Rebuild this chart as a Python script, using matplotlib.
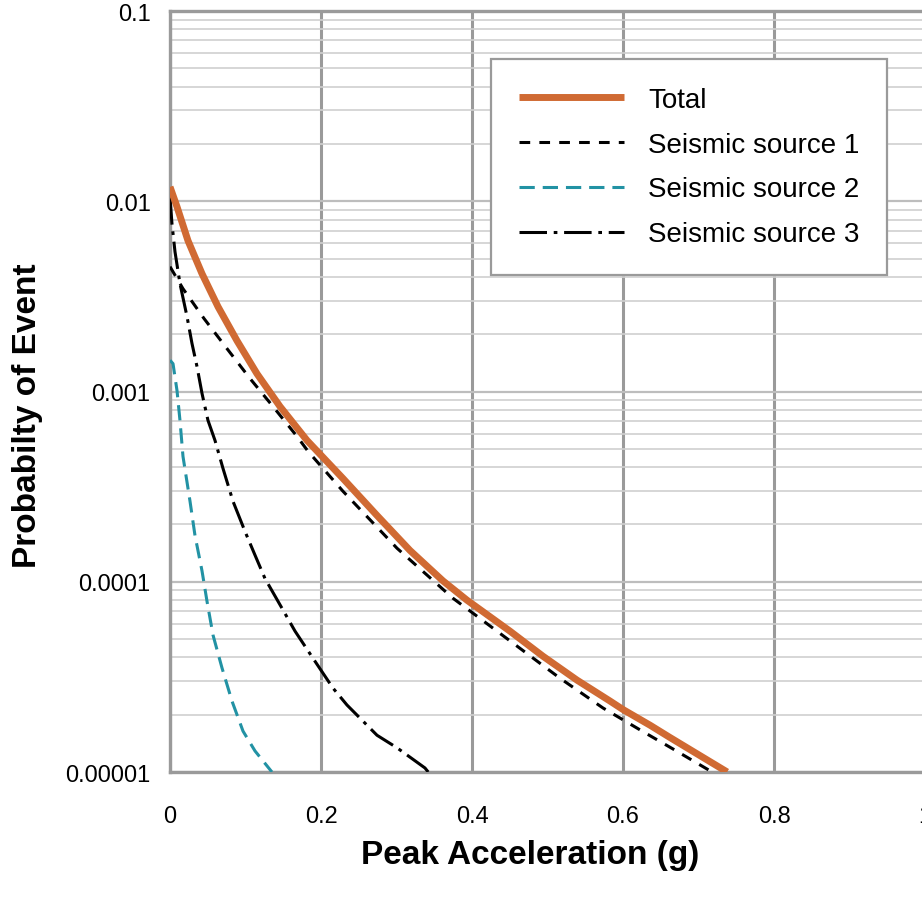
import numpy as np
import matplotlib
matplotlib.use("Agg")
import matplotlib.pyplot as plt
from matplotlib.ticker import LogLocator, NullFormatter

plt.rcParams['font.family'] = ['Liberation Sans', 'DejaVu Sans']

# values (x = peak acceleration in g, y = probability)
total_x = [0.0, 0.0093, 0.0238, 0.0424, 0.0636, 0.0887, 0.1152, 0.1457, 0.1815,
           0.2291, 0.2742, 0.3179, 0.3616, 0.3934, 0.4503, 0.4940, 0.5391, 0.5828,
           0.600, 0.636, 0.662, 0.738]
total_y = [0.0119, 0.00935, 0.00621, 0.00416, 0.00279, 0.00185, 0.00124, 0.000834,
           0.000553, 0.000349, 0.000223, 0.000146, 0.000101, 8.0e-5, 5.5e-5,
           4.06e-5, 3.04e-5, 2.36e-5, 2.13e-5, 1.76e-5, 1.52e-5, 1.0e-5]

src1_x = [0.0, 0.0172, 0.045, 0.0755, 0.106, 0.1364, 0.1682, 0.183, 0.2291, 0.3007,
          0.3748, 0.4331, 0.5166, 0.5735, 0.6265, 0.665, 0.718]
src1_y = [0.00453, 0.00347, 0.00242, 0.00168, 0.00117, 0.000834, 0.000581, 0.000484,
          0.000299, 0.000150, 8.19e-5, 5.5e-5, 3.11e-5, 2.17e-5, 1.63e-5, 1.33e-5, 1.0e-5]

src2_x = [0.0, 0.004, 0.0093, 0.0132, 0.0172, 0.0265, 0.0331, 0.0424, 0.049, 0.057,
          0.0689, 0.0821, 0.0967, 0.1126, 0.135]
src2_y = [0.00146, 0.0014, 0.00101, 0.000705, 0.000456, 0.000265, 0.000175, 0.000114,
          7.9e-5, 5.24e-5, 3.52e-5, 2.36e-5, 1.64e-5, 1.29e-5, 1.0e-5]

src3_x = [0.0, 0.0026, 0.0066, 0.0132, 0.0225, 0.0291, 0.0358, 0.0424, 0.0503, 0.0596,
          0.0702, 0.0834, 0.0993, 0.1126, 0.1258, 0.1483, 0.1656, 0.1894, 0.2159,
          0.2344, 0.2742, 0.3007, 0.3377, 0.342]
src3_y = [0.0105, 0.00762, 0.00543, 0.00369, 0.00248, 0.00179, 0.00135, 0.000977,
          0.000705, 0.000553, 0.000394, 0.000265, 0.000184, 0.000138, 0.000104,
          7.26e-5, 5.5e-5, 3.96e-5, 2.76e-5, 2.25e-5, 1.56e-5, 1.34e-5, 1.05e-5, 1.0e-5]

x_ticks = [0, 0.2, 0.4, 0.6, 0.8, 1]
x_labels = ['0', '0.2', '0.4', '0.6', '0.8', '1']
y_ticks = [1e-5, 1e-4, 1e-3, 1e-2, 1e-1]
y_labels = ['0.00001', '0.0001', '0.001', '0.01', '0.1']

ORANGE = '#D06A33'
TEAL = '#2292A4'
GRID = '#9a9a9a'

fig = plt.figure(figsize=(9.22, 9.03), dpi=100)
ax = fig.add_axes([170 / 922, 130 / 903, 755 / 922, 761 / 903])

ax.plot(total_x, total_y, color=ORANGE, lw=5, solid_capstyle='butt',
        solid_joinstyle='round', label='Total', zorder=5)
ax.plot(src1_x, src1_y, color='black', lw=2.2, linestyle=(0, (3.5, 3)),
        label='Seismic source 1', zorder=4)
ax.plot(src2_x, src2_y, color=TEAL, lw=2.2, linestyle=(0, (5, 2.6)),
        label='Seismic source 2', zorder=4)
ax.plot(src3_x, src3_y, color='black', lw=2.2, linestyle=(0, (9, 2.2, 1.2, 2.2)),
        label='Seismic source 3', zorder=4)

ax.set_yscale('log')
ax.set_xlim(0, 1)
ax.set_ylim(1e-5, 0.1)
ax.set_xticks(x_ticks)
ax.set_xticklabels(x_labels)
ax.set_yticks(y_ticks)
ax.set_yticklabels(y_labels)
ax.yaxis.set_minor_locator(LogLocator(base=10, subs=np.arange(2, 10)))
ax.yaxis.set_minor_formatter(NullFormatter())

ax.tick_params(axis='both', which='both', length=0, labelsize=17)
ax.tick_params(axis='x', pad=24)
ax.tick_params(axis='y', pad=14)

ax.grid(True, which='major', axis='x', color=GRID, lw=2.2)
ax.grid(True, which='major', axis='y', color='#bdbdbd', lw=1.6)
ax.grid(True, which='minor', axis='y', color='#cfcfcf', lw=1.2)
ax.set_axisbelow(True)

for s in ax.spines.values():
    s.set_color(GRID)
    s.set_linewidth(2.4)

ax.set_xlabel('Peak Acceleration (g)', fontsize=24, fontweight='bold')
ax.set_ylabel('Probabilty of Event', fontsize=24, fontweight='bold')
ax.xaxis.set_label_coords(0.477, -0.088)
ax.yaxis.set_label_coords(-0.168, 0.469)

leg = ax.legend(loc='upper left', bbox_to_anchor=(0.425, 0.937), fontsize=20,
                frameon=True, fancybox=False, framealpha=1, edgecolor=GRID,
                handlelength=3.8, handletextpad=0.86, labelspacing=0.68,
                borderpad=1.0, borderaxespad=0)
leg.get_frame().set_linewidth(1.6)

fig.savefig('out.png', dpi=100)
plt.close(fig)
